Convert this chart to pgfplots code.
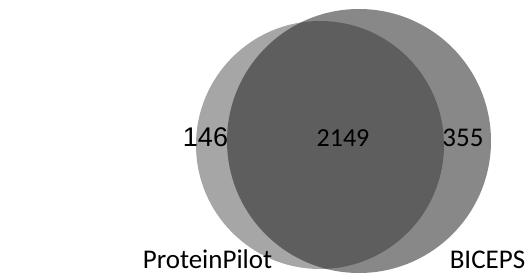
\documentclass[border=0pt]{standalone}
\usepackage{pgfplots}
\pgfplotsset{compat=1.18}
\usepackage{fontspec}
\setmainfont{Carlito}
\newfontfamily\arialf{Liberation Sans}
\definecolor{leftc}{RGB}{166,166,166}
\definecolor{rightc}{RGB}{31,31,31}
\begin{document}
\begin{tikzpicture}
\begin{axis}[
  width=531pt, height=279pt, scale only axis,
  xmin=0, xmax=531, ymin=0, ymax=279,
  hide axis, clip=false,
]
% ProteinPilot circle (center; radius as mark size)
\addplot[only marks, mark=*, mark size=124pt, mark options={fill=leftc, draw opacity=0}]
  coordinates {(320,134)};
% BICEPS circle
\addplot[only marks, mark=*, mark size=132pt, mark options={fill=rightc, fill opacity=0.53, draw opacity=0}]
  coordinates {(359,138)};
\coordinate (bl) at (axis cs:0,0);
\coordinate (tr) at (axis cs:531,279);
\coordinate (n1) at (axis cs:205.5,132);
\coordinate (n2) at (axis cs:343,132);
\coordinate (n3) at (axis cs:463,132);
\coordinate (l1) at (axis cs:207.5,11);
\coordinate (l2) at (axis cs:487.5,11);
\end{axis}
\path (bl) rectangle (tr);
\node[anchor=base, font=\arialf\fontsize{27}{30}\selectfont] at (n1) {146};
\node[anchor=base, font=\fontsize{26}{30}\selectfont] at (n2) {2149};
\node[anchor=base, font=\fontsize{27}{30}\selectfont] at (n3) {355};
\node[anchor=base, font=\fontsize{27}{30}\selectfont] at (l1) {ProteinPilot};
\node[anchor=base, font=\fontsize{27}{30}\selectfont] at (l2) {BICEPS};
\end{tikzpicture}
\end{document}
